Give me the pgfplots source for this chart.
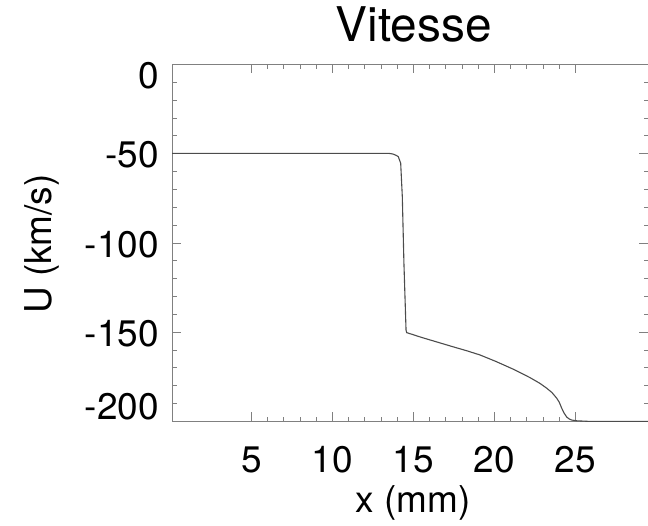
\documentclass[border=0pt]{standalone}
\usepackage{fontspec}
\setmainfont{TeX Gyre Heros}
\usepackage{pgfplots}
\pgfplotsset{compat=1.18}
\definecolor{spine}{gray}{0.5}
\definecolor{curve}{gray}{0.3}
\begin{document}
\begin{tikzpicture}
\useasboundingbox (0,0) rectangle (648bp,526bp);
\begin{axis}[
  at={(172bp,104.5bp)}, anchor=south west,
  scale only axis, width=476bp, height=357bp,
  xmin=0.09, xmax=29.48, ymin=-200, ymax=0,
  xtick={5,10,15,20,25}, xticklabels={5,10,15,20,25},
  ytick={-200,-150,-100,-50,0},
  yticklabels={{\raisebox{16.5bp}[\height][\depth]{-200}},-150,-100,-50,{\raisebox{-9.5bp}[\height][\depth]{0}}},
  minor x tick num=4, minor y tick num=4,
  xtick pos=both, ytick pos=both, tick align=inside,
  major tick length=9bp, minor tick length=4.5bp,
  axis line style={spine, line width=1bp},
  every tick/.style={spine, line width=0.9bp},
  every minor tick/.style={spine, line width=0.9bp},
  tick label style={font=\fontsize{37.1}{44}\selectfont, inner sep=0pt},
  xticklabel style={anchor=north, yshift=-25bp},
  yticklabel style={anchor=east, xshift=-13bp, yshift=-1.3bp},
  label style={font=\fontsize{37.1}{44}\selectfont},
  xlabel={x (mm)}, ylabel={U (km/s)},
  xlabel style={at={(axis description cs:0.506,-0.227)}, anchor=center},
  ylabel style={at={(axis description cs:-0.273,0.497)}, anchor=center},
  title={Vitesse},
  title style={at={(axis description cs:0.508,1.049)}, anchor=base, font=\fontsize{48}{56}\selectfont, inner sep=0pt},
  clip=true,
]
\addplot[curve, line width=1.1bp] coordinates {
(0.09,-49.8) (5,-49.8) (10,-49.8) (13.5,-49.8) (13.75,-50.2) (13.95,-51.0)
(14.06,-51.6) (14.21,-55.3) (14.31,-74) (14.41,-111.3) (14.54,-148.7) (14.58,-150.2)
(15.5,-152.9) (16.5,-155.6) (17.5,-158.3) (18.3,-160.4) (19.10,-162.7) (20.1,-166.4)
(21.16,-170.7) (22.19,-175.4) (22.8,-178.6) (23.22,-181.3) (23.55,-183.8)
(23.84,-186.9) (24.0,-189.2) (24.15,-192.5) (24.3,-195.3) (24.46,-197.5) (24.62,-198.6) (24.77,-199.2) (25.07,-199.6)
(26,-200) (29.48,-200)
};
\end{axis}
\end{tikzpicture}
\end{document}
